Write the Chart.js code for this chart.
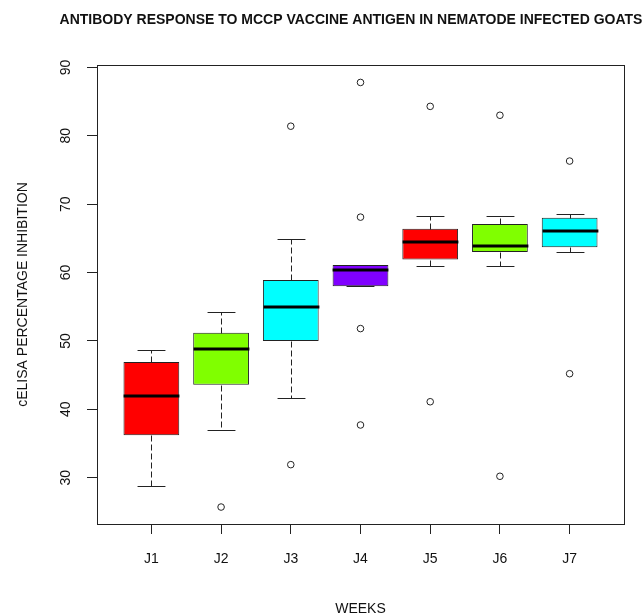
<!DOCTYPE html>
<html>
<head>
<meta charset="utf-8">
<title>cELISA boxplot</title>
<script src="https://cdn.jsdelivr.net/npm/chart.js@4.4.1/dist/chart.umd.min.js"></script>
<style>
  body { margin: 0; background: #fff; }
  canvas { display: block; }
</style>
</head>
<body>
<canvas id="boxChart" width="643" height="615"></canvas>
<script>
const weeks = ["J1", "J2", "J3", "J4", "J5", "J6", "J7"];
const lowWhisker = [28.8, 37.0, 41.6, 58.0, 60.9, 61.0, 63.0];
const q1 = [36.2, 43.6, 50.0, 58.0, 61.9, 63.0, 63.7];
const median = [42.0, 48.8, 54.9, 60.3, 64.5, 63.9, 66.1];
const q3 = [46.9, 51.2, 58.9, 61.1, 66.4, 67.1, 68.0];
const highWhisker = [48.6, 54.2, 64.9, 61.1, 68.3, 68.3, 68.5];
const outliers = [
    [],
    [25.7],
    [31.9, 81.4],
    [37.7, 51.8, 68.1, 87.8],
    [41.1, 84.3],
    [30.2, 83.0],
    [45.2, 76.3],
];
const yTicks = [30, 40, 50, 60, 70, 80, 90];
const boxColors = ["#FF0000", "#80FF00", "#00FFFF", "#8000FF", "#FF0000", "#80FF00", "#00FFFF"];

const FONT = "'Liberation Sans', Arial, sans-serif";
const INK = "#222";

// whiskers, staples and medians drawn over the boxes
const boxMarks = {
    id: "boxMarks",
    afterDatasetsDraw(chart) {
        const { ctx } = chart;
        const x = chart.scales.x;
        const y = chart.scales.y;
        const bars = chart.getDatasetMeta(0).data;
        const py = (v) => Math.round(y.getPixelForValue(v)) + 0.5;
        ctx.save();
        weeks.forEach((w, i) => {
            const cx = Math.round(x.getPixelForValue(i + 1)) + 0.5;
            const half = bars[i].width / 2;
            ctx.strokeStyle = INK;
            ctx.lineWidth = 1;
            ctx.setLineDash([6, 3]);
            ctx.beginPath();
            ctx.moveTo(cx, py(q3[i]));
            ctx.lineTo(cx, py(highWhisker[i]));
            ctx.moveTo(cx, py(q1[i]));
            ctx.lineTo(cx, py(lowWhisker[i]));
            ctx.stroke();
            ctx.setLineDash([]);
            ctx.beginPath();
            ctx.moveTo(cx - half / 2, py(highWhisker[i]));
            ctx.lineTo(cx + half / 2, py(highWhisker[i]));
            ctx.moveTo(cx - half / 2, py(lowWhisker[i]));
            ctx.lineTo(cx + half / 2, py(lowWhisker[i]));
            ctx.stroke();
            ctx.strokeStyle = "#000";
            ctx.lineWidth = 3;
            ctx.beginPath();
            const my = Math.round(y.getPixelForValue(median[i]));
            ctx.moveTo(cx - half, my);
            ctx.lineTo(cx + half, my);
            ctx.stroke();
        });
        ctx.restore();
    },
};

// frame around the plot region and the main title
const frame = {
    id: "frame",
    afterDraw(chart) {
        const { ctx, chartArea: a } = chart;
        ctx.save();
        ctx.strokeStyle = INK;
        ctx.lineWidth = 1;
        ctx.strokeRect(Math.round(a.left) + 0.5, Math.round(a.top) + 0.5,
            Math.round(a.right - a.left), Math.round(a.bottom - a.top));
        ctx.fillStyle = "#111";
        ctx.font = "bold 14px " + FONT;
        ctx.textAlign = "center";
        ctx.textBaseline = "alphabetic";
        ctx.fillText("ANTIBODY RESPONSE TO MCCP VACCINE ANTIGEN IN NEMATODE INFECTED GOATS", 351, 24);
        ctx.restore();
    },
};

const outlierPoints = [];
outliers.forEach((vals, i) => vals.forEach((v) => outlierPoints.push({ x: i + 1, y: v })));

new Chart(document.getElementById("boxChart"), {
    type: "bar",
    data: {
        datasets: [
            {
                label: "IQR",
                data: weeks.map((w, i) => ({ x: i + 1, y: [q1[i], q3[i]] })),
                backgroundColor: boxColors,
                borderColor: INK,
                borderWidth: 1,
                borderSkipped: false,
                barPercentage: 0.8,
                categoryPercentage: 1,
                order: 2,
            },
            {
                type: "scatter",
                label: "outliers",
                data: outlierPoints,
                pointStyle: "circle",
                pointRadius: 3.3,
                pointBackgroundColor: "rgba(255,255,255,0)",
                pointBorderColor: INK,
                pointBorderWidth: 1,
                showLine: false,
                order: 1,
            },
        ],
    },
    options: {
        responsive: false,
        animation: false,
        layout: { padding: { top: 65, right: 19, bottom: 0, left: 0 } },
        plugins: {
            legend: { display: false },
            tooltip: { enabled: false },
        },
        scales: {
            x: {
                type: "linear",
                offset: false,
                min: 0.22,
                max: 7.78,
                afterBuildTicks: (s) => { s.ticks = weeks.map((w, i) => ({ value: i + 1 })); },
                afterFit: (s) => { s.height = 91; },
                grid: { offset: false, drawOnChartArea: false, tickLength: 10, color: INK },
                border: { display: true, color: INK },
                ticks: {
                    autoSkip: false,
                    maxRotation: 0,
                    padding: 17,
                    color: "#111",
                    font: { family: FONT, size: 14 },
                    callback: (v) => weeks[v - 1],
                },
                title: {
                    display: true,
                    text: "WEEKS",
                    color: "#111",
                    font: { family: FONT, size: 14, lineHeight: 1 },
                    padding: { top: 0, bottom: -1 },
                },
            },
            y: {
                min: 23.22,
                max: 90.35,
                afterBuildTicks: (s) => { s.ticks = yTicks.map((v) => ({ value: v })); },
                afterFit: (s) => { s.width = 97; },
                grid: { drawOnChartArea: false, tickLength: 10, color: INK },
                border: { display: true, color: INK },
                ticks: {
                    minRotation: 90,
                    maxRotation: 90,
                    crossAlign: "center",
                    padding: 13,
                    color: "#111",
                    font: { family: FONT, size: 14 },
                },
                title: {
                    display: true,
                    text: "cELISA PERCENTAGE INHIBITION",
                    color: "#111",
                    font: { family: FONT, size: 14 },
                    padding: { top: 15, bottom: 0 },
                },
            },
        },
    },
    plugins: [boxMarks, frame],
});
</script>
</body>
</html>
